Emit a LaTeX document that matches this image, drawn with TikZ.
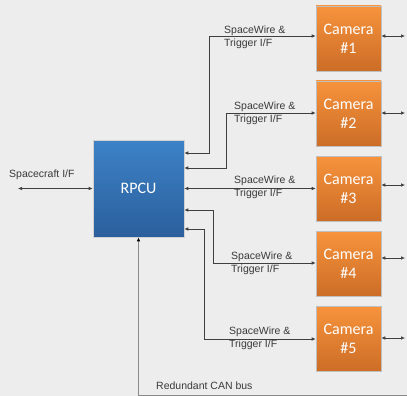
\documentclass[tikz,border=0pt]{standalone}
\usepackage{fontspec}
\setmainfont{Liberation Sans}
\newfontfamily\boxfont{Carlito}
\usetikzlibrary{arrows.meta}
\definecolor{bgpage}{HTML}{EDEDED}
\definecolor{orangetop}{HTML}{F7933C}
\definecolor{orangebot}{HTML}{CC6D27}
\definecolor{bluetop}{HTML}{3D82C7}
\definecolor{bluebot}{HTML}{2B5F9C}
\definecolor{linkdark}{HTML}{3F3F3F}
\definecolor{linkgray}{HTML}{8A8A8A}
\definecolor{labeltext}{HTML}{3A3A3A}
\tikzset{
  camera/.style={minimum width=65pt, minimum height=65pt, inner sep=0pt,
    top color=orangetop, bottom color=orangebot, draw=black!25, line width=0.6pt,
    text=white, font=\boxfont\fontsize{16}{19}\selectfont, align=center},
  unit/.style={minimum width=91pt, minimum height=97pt, inner sep=0pt,
    top color=bluetop, bottom color=bluebot, draw=black!18, line width=0.6pt,
    text=white, font=\boxfont\fontsize{16}{19}\selectfont},
  link/.style={draw=linkdark, line width=0.7pt,
    {Latex[length=4pt,width=3.6pt]}-{Latex[length=4pt,width=3.6pt]}},
  canlink/.style={draw=linkgray, line width=0.8pt,
    {Latex[length=4pt,width=3.6pt,fill=black,color=black]}-},
  lbl/.style={anchor=west, inner sep=0pt, align=left, text=labeltext,
    font=\fontsize{10.5}{13}\selectfont}
}
\begin{document}
\begin{tikzpicture}[x=1pt,y=-1pt]
  % page
  \fill[bgpage] (0,0) rectangle (407,396);
  \useasboundingbox (0,0) rectangle (407,396);

  % boxes
  \node[unit] (rpcu) at (138.5,188.5) {RPCU};
  \node[camera] (cam1) at (348.5,38.5) {Camera\\\#1};
  \node[camera] (cam2) at (348.5,113.5) {Camera\\\#2};
  \node[camera] (cam3) at (348.5,188.5) {Camera\\\#3};
  \node[camera] (cam4) at (348.5,264) {Camera\\\#4};
  \node[camera] (cam5) at (348.5,339) {Camera\\\#5};

  % bend points of the SpaceWire / trigger links
  \coordinate (k1) at (209,153);  \coordinate (j1) at (209,36);
  \coordinate (k2) at (226,168);  \coordinate (j2) at (226,113);
  \coordinate (k4) at (213,210);  \coordinate (j4) at (213,263);
  \coordinate (k5) at (204,229);  \coordinate (j5) at (204,339);

  % SpaceWire & trigger links
  \draw[link] (rpcu.east |- k1) -- (k1) -- (j1) -- (j1 -| cam1.west);
  \draw[link] (rpcu.east |- k2) -- (k2) -- (j2) -- (j2 -| cam2.west);
  \draw[link] (rpcu.east) -- (cam3.west);
  \draw[link] (rpcu.east |- k4) -- (k4) -- (j4) -- (j4 -| cam4.west);
  \draw[link] (rpcu.east |- k5) -- (k5) -- (j5) -- (j5 -| cam5.west);

  % outgoing camera links
  \coordinate (r1) at (405,36);
  \coordinate (r2) at (405,113);
  \coordinate (r3) at (405,185);
  \coordinate (r4) at (405,258);
  \coordinate (r5) at (405,338);
  \foreach \i in {1,...,5}{
    \draw[link] (cam\i.east |- r\i) -- (r\i);
  }

  % spacecraft interface
  \coordinate (sc) at (18,188.5);
  \draw[link] (sc) -- (rpcu.west);

  % redundant CAN bus
  \coordinate (canbend) at (138.5,395);
  \coordinate (canend) at (407,395);
  \draw[canlink] (rpcu.south) -- (canbend) -- (canend);

  % labels
  \node[lbl] (l1) at (224,37.5) {SpaceWire \&\\Trigger I/F};
  \node[lbl] (l2) at (234,113) {SpaceWire \&\\Trigger I/F};
  \node[lbl] (l3) at (234,187) {SpaceWire \&\\Trigger I/F};
  \node[lbl] (l4) at (231,263) {SpaceWire \&\\Trigger I/F};
  \node[lbl] (l5) at (229,338.5) {SpaceWire \&\\Trigger I/F};
  \node[lbl] (lsc) at (9,175) {Spacecraft I/F};
  \node[lbl] (lcan) at (156,386) {Redundant CAN bus};
\end{tikzpicture}
\end{document}
